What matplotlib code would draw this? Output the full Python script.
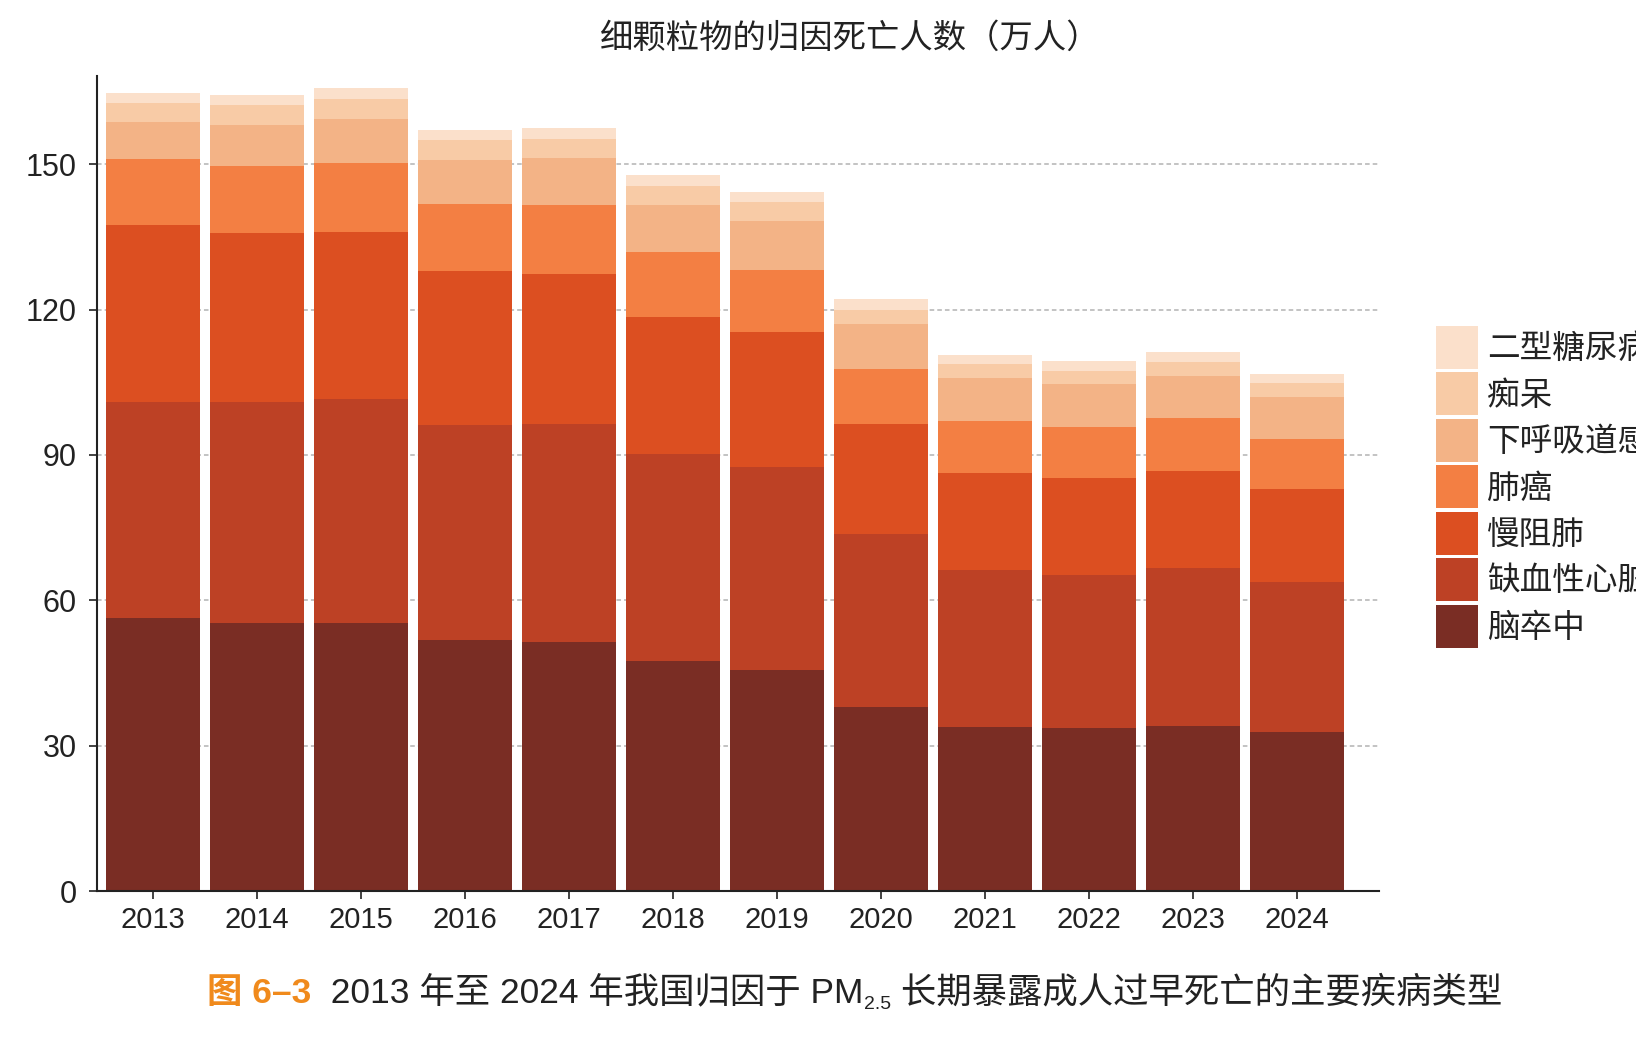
import matplotlib
matplotlib.use("Agg")
import matplotlib.pyplot as plt
import numpy as np

plt.rcParams['font.family'] = ['Liberation Sans', 'Noto Sans CJK SC', 'DejaVu Sans']

years = ['2013', '2014', '2015', '2016', '2017', '2018', '2019', '2020', '2021', '2022', '2023', '2024']
diseases = ['脑卒中', '缺血性心脏病', '慢阻肺', '肺癌', '下呼吸道感染', '痴呆', '二型糖尿病']
stroke   = [56.4, 55.4, 55.4, 51.9, 51.3, 47.4, 45.7, 37.9, 33.8, 33.6, 34.1, 32.8]
ihd      = [44.5, 45.5, 46.2, 44.2, 45.0, 42.7, 41.8, 35.7, 32.4, 31.7, 32.5, 31.0]
copd     = [36.5, 34.9, 34.4, 31.8, 31.1, 28.3, 27.8, 22.8, 20.1, 20.0, 20.1, 19.2]
lung     = [13.7, 13.9, 14.3, 13.9, 14.1, 13.5, 12.9, 11.4, 10.7, 10.5, 10.9, 10.3]
lri      = [7.5, 8.3, 9.1, 9.1, 9.7, 9.7, 10.1, 9.2, 8.8, 8.9, 8.7, 8.7]
dementia = [4.1, 4.3, 4.1, 4.1, 4.0, 3.9, 3.9, 2.9, 3.0, 2.7, 2.8, 2.9]
diabetes = [2.0, 2.0, 2.3, 2.0, 2.3, 2.3, 2.1, 2.3, 1.9, 2.0, 2.2, 1.8]
colors = ['#7a2d24', '#bd4125', '#dc4f21', '#f37f43', '#f3b386', '#f8cba6', '#fbe0cb']

series = [stroke, ihd, copd, lung, lri, dementia, diabetes]

fig = plt.figure(figsize=(16.36, 10.48), dpi=100)
ax = fig.add_axes([0.0593, 0.1498, 0.7837, 0.7777])

x = np.arange(len(years))
bottom = np.zeros(len(years))
handles = []
for vals, name, c in zip(series, diseases, colors):
    b = ax.bar(x, vals, 0.9, bottom=bottom, color=c, label=name, zorder=2)
    handles.append(b)
    bottom += np.array(vals)

ax.set_xlim(-0.54, 11.79)
ax.set_ylim(0, 168.2)
ax.set_yticks([0, 30, 60, 90, 120, 150])
ax.set_xticks(x)
ax.set_xticklabels(years)
for v in [30, 60, 90, 120, 150]:
    ax.axhline(v, color='#b3b3b3', lw=1.1, ls=(0, (3, 2)), zorder=1)

for s in ['top', 'right']:
    ax.spines[s].set_visible(False)
for s in ['left', 'bottom']:
    ax.spines[s].set_linewidth(1.5)
    ax.spines[s].set_color('#222222')
ax.tick_params(axis='y', length=6, width=1.2, pad=8.5, labelsize=22, colors='#222222')
ax.tick_params(axis='x', length=6, width=1.2, pad=5, labelsize=21, colors='#222222')

fig.text(815 / 1568, 1 - 38.5 / 1048, '细颗粒物的归因死亡人数（万人）', ha='center', va='center',
         fontsize=24, color='#222222')

leg = fig.legend(handles[::-1], diseases[::-1], loc='upper left',
                 bbox_to_anchor=(1436 / 1636, 1 - 326 / 1048), frameon=False,
                 fontsize=23.5, handlelength=1.28, handleheight=1.65,
                 labelspacing=0.106, handletextpad=0.29, borderpad=0, borderaxespad=0)
for t in leg.get_texts():
    t.set_color('#222222')

# caption
cap_y = 1 - 1010 / 1048
t1 = fig.text(207 / 1636, cap_y, '图 6–3', fontsize=25.5, fontweight='bold', color='#f08a1c',
              ha='left', va='bottom')
t2 = ax.annotate('  2013 年至 2024 年我国归因于 PM', xy=(1, 0), xycoords=t1, fontsize=25.5,
                 color='#222222', ha='left', va='bottom', annotation_clip=False)
t3 = ax.annotate('2.5', xy=(1, 0), xycoords=t2, xytext=(0, -2), textcoords='offset points',
                 fontsize=14, color='#222222', ha='left', va='bottom', annotation_clip=False)
t4 = ax.annotate(' 长期暴露成人过早死亡的主要疾病类型', xy=(1, 0), xycoords=t3, xytext=(0, 2),
                 textcoords='offset points', fontsize=25.5, color='#222222', ha='left', va='bottom',
                 annotation_clip=False)

fig.savefig('out.png', dpi=100)
